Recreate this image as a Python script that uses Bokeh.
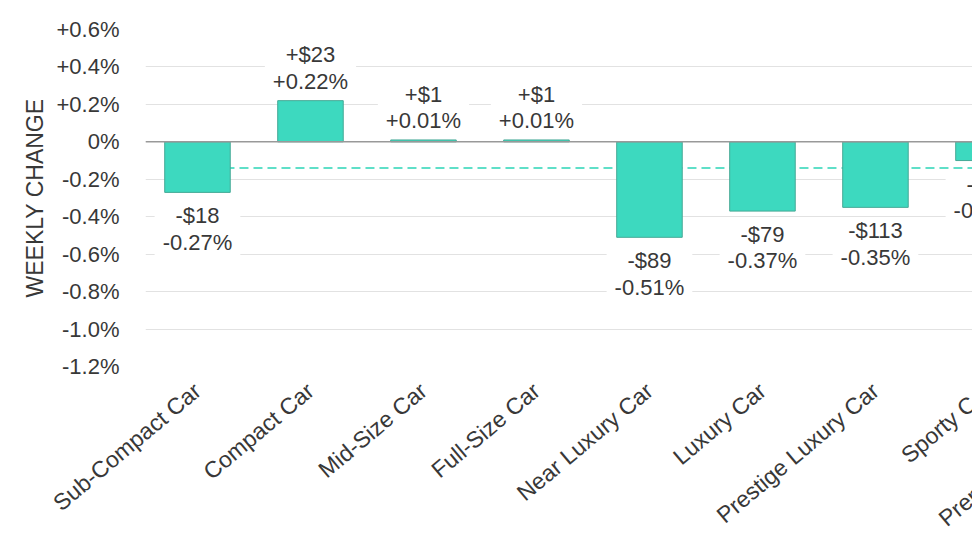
import math
from bokeh.plotting import figure
from bokeh.layouts import column
from bokeh.models import Range1d, FixedTicker, ColumnDataSource, Span
from bokeh.core.properties import value
from bokeh.embed import file_html
from bokeh.resources import INLINE

# ---------------- data ----------------
categories = ["Sub-Compact Car", "Compact Car", "Mid-Size Car", "Full-Size Car",
              "Near Luxury Car", "Luxury Car", "Prestige Luxury Car", "Sporty Car",
              "Premium Sporty Car"]
pct_change = [-0.27, 0.22, 0.01, 0.01, -0.51, -0.37, -0.35, -0.10]
dollar_change = [-18, 23, 1, 1, -89, -79, -113, -38]
average_pct = -0.14
y_ticks = [0.6, 0.4, 0.2, 0.0, -0.2, -0.4, -0.6, -0.8, -1.0, -1.2]
y_tick_labels = ["+0.6%", "+0.4%", "+0.2%", "0%", "-0.2%", "-0.4%",
                 "-0.6%", "-0.8%", "-1.0%", "-1.2%"]

# ---------------- style ----------------
FONT = "Liberation Sans"
TEXT_COLOR = "#383838"
BAR_FILL = "#3DD9BF"
BAR_LINE = "#45a996"
ANGLE = math.radians(40)
FIG_W, FIG_H = 1110, 544
VIEW_W, VIEW_H = 972, 544

idx = list(range(len(pct_change)))


def sign(v):
    return "+" if v >= 0 else "-"


labels = [f"{sign(d)}${abs(d)}\n{sign(v)}{abs(v):.2f}%" for d, v in zip(dollar_change, pct_change)]

pos = [i for i in idx if pct_change[i] >= 0]
neg = [i for i in idx if pct_change[i] < 0]
src_all = ColumnDataSource(dict(x=idx, top=pct_change, label=labels))
src_pos = ColumnDataSource(dict(x=pos, y=[pct_change[i] for i in pos], label=[labels[i] for i in pos]))
src_neg = ColumnDataSource(dict(x=neg, y=[pct_change[i] for i in neg], label=[labels[i] for i in neg]))

# The reference is a crop of a wider chart: the figure is wider than the
# visible page and is cropped by its container.
x_range = Range1d(-0.46, 8.08)
y_range = Range1d(y_ticks[-1], y_ticks[0])

p = figure(width=FIG_W, height=FIG_H, x_range=x_range, y_range=y_range,
           output_backend="svg", toolbar_location=None,
           min_border_left=145, min_border_right=0, min_border_top=29, min_border_bottom=172,
           styles={"min-width": f"{FIG_W}px", "min-height": f"{FIG_H}px",
                   "max-width": "none", "flex-shrink": "0"})
p.outline_line_color = None
p.background_fill_color = "white"
p.border_fill_color = "white"

# grid
p.xgrid.visible = False
p.ygrid.ticker = FixedTicker(ticks=y_ticks)
p.ygrid.grid_line_color = "#e2e2e2"
p.ygrid.grid_line_width = 1

# y axis
p.yaxis.ticker = FixedTicker(ticks=y_ticks)
p.yaxis.major_label_overrides = {t: l for t, l in zip(y_ticks, y_tick_labels)}
p.yaxis.axis_label = "WEEKLY CHANGE"
p.yaxis.axis_label_text_font = FONT
p.yaxis.axis_label_text_font_style = "normal"
p.yaxis.axis_label_text_font_size = "23px"
p.yaxis.axis_label_text_color = TEXT_COLOR
p.yaxis.axis_label_standoff = 6
p.yaxis.major_label_text_font = FONT
p.yaxis.major_label_text_font_size = "22px"
p.yaxis.major_label_text_color = TEXT_COLOR
p.yaxis.major_label_standoff = 26
p.yaxis.major_tick_out = 0
p.yaxis.major_tick_in = 0
p.yaxis.minor_tick_out = 0
p.yaxis.minor_tick_in = 0
p.yaxis.axis_line_color = None

# x axis
p.xaxis.ticker = FixedTicker(ticks=list(range(len(categories))))
p.xaxis.major_label_overrides = {i: c for i, c in enumerate(categories)}
p.xaxis.major_label_orientation = ANGLE
p.xaxis.major_label_text_font = FONT
p.xaxis.major_label_text_font_size = "23px"
p.xaxis.major_label_text_color = TEXT_COLOR
p.xaxis.major_label_standoff = 21
p.xaxis.major_tick_out = 0
p.xaxis.major_tick_in = 0
p.xaxis.minor_tick_out = 0
p.xaxis.minor_tick_in = 0
p.xaxis.axis_line_color = None

# average dashed line (behind bars)
p.segment(x0=[idx[0]], x1=[len(categories) - 1], y0=[average_pct], y1=[average_pct],
          line_color="#5fdfc8", line_width=2, line_dash="9 5")

# bars
p.vbar(x="x", top="top", bottom=0, width=0.58, source=src_all,
       fill_color=BAR_FILL, line_color=BAR_LINE, line_width=1)

# zero line
p.add_layout(Span(location=0, dimension="width", line_color="#999999", line_width=1.5))

# value labels
common = dict(text="label", text_align="center", text_font=value(FONT), text_font_size="22px",
              text_color=TEXT_COLOR, text_line_height=1.05,
              background_fill_color="white", padding=(8, 1))
p.text(x="x", y="y", source=src_pos, text_baseline="bottom", y_offset=-6, **common)
p.text(x="x", y="y", source=src_neg, text_baseline="top", y_offset=10, **common)

page = column(p, width=VIEW_W, height=VIEW_H,
              styles={"overflow": "hidden", "width": f"{VIEW_W}px", "height": f"{VIEW_H}px"})

open("out.html", "w").write(file_html(page, INLINE))
